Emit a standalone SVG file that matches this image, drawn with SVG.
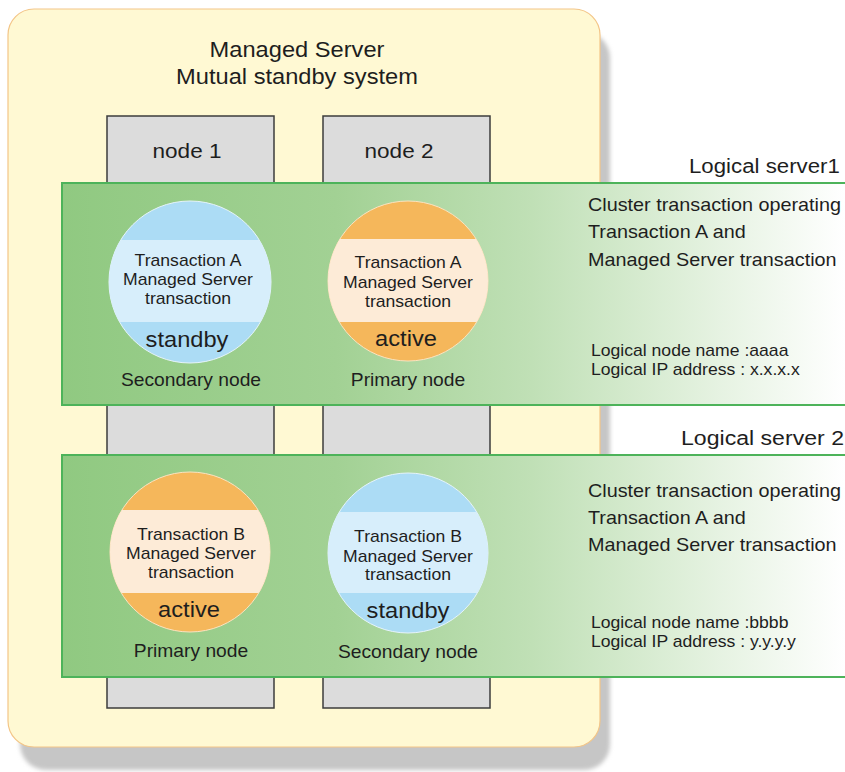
<svg xmlns="http://www.w3.org/2000/svg" width="845" height="772" viewBox="0 0 845 772">
<style>
text{font-family:"Liberation Sans",Arial,sans-serif;fill:#1e1e1e}
.c{text-anchor:middle}
.title{font-size:21.5px}
.nl{font-size:20.5px}
.tx{font-size:16px}
.st{font-size:21.5px}
.role{font-size:17.5px}
.desc{font-size:18px}
.info{font-size:16px}
.ls{font-size:21px}
.box{fill:#dcdcdc;stroke:#3c3c3c;stroke-width:1.5}
.band{fill:url(#bandGrad);stroke:#4db35a;stroke-width:2}
.blue{fill:#acdcf5;stroke:#e6f4fb;stroke-width:1}
.orange{fill:#f5b75b;stroke:#fbe3c0;stroke-width:1}
.blueIn{fill:#d7eefb}
.orangeIn{fill:#fdebd7}
</style>
<defs>
<linearGradient id="bandGrad" gradientUnits="userSpaceOnUse" x1="62" y1="0" x2="845" y2="0">
<stop offset="0" stop-color="#90c981"/>
<stop offset="0.35" stop-color="#a2d194"/>
<stop offset="0.6" stop-color="#c0e0b6"/>
<stop offset="1" stop-color="#ffffff"/>
</linearGradient>
<filter id="blur" x="-5%" y="-5%" width="110%" height="110%"><feGaussianBlur stdDeviation="2"/></filter>
<clipPath id="cp1"><circle cx="190" cy="282" r="81"/></clipPath>
<clipPath id="cp2"><circle cx="408" cy="281" r="80"/></clipPath>
<clipPath id="cp3"><circle cx="190" cy="552" r="80"/></clipPath>
<clipPath id="cp4"><circle cx="408" cy="553" r="80"/></clipPath>
</defs>

<g id="managed-server">
<rect x="20" y="32" width="590" height="738" rx="26" fill="#c6c6c6" filter="url(#blur)"/>
<rect x="8" y="9" width="592" height="738" rx="26" fill="#fff9d3" stroke="#f3c587" stroke-width="1.2"/>
<text class="title c" transform="translate(297,57) scale(1.1,1)">Managed Server</text>
<text class="title c" transform="translate(297,84) scale(1.1,1)">Mutual standby system</text>
</g>

<g id="node1">
<rect class="box" x="107" y="116" width="167" height="592"/>
<text class="nl c" transform="translate(187,158) scale(1.1,1)">node 1</text>
</g>
<g id="node2">
<rect class="box" x="323" y="116" width="167" height="592"/>
<text class="nl c" transform="translate(399,158) scale(1.1,1)">node 2</text>
</g>

<g id="logical-server1">
<text class="ls" transform="translate(689,173) scale(1.06,1)">Logical server1</text>
<rect class="band" x="62" y="183" width="800" height="222"/>
<text class="desc" transform="translate(588,211) scale(1.1,1)">Cluster transaction operating</text>
<text class="desc" transform="translate(588,238) scale(1.1,1)">Transaction A and</text>
<text class="desc" transform="translate(588,266) scale(1.1,1)">Managed Server transaction</text>
<text class="info" transform="translate(591,356) scale(1.1,1)">Logical node name :aaaa</text>
<text class="info" transform="translate(591,375) scale(1.1,1)">Logical IP address : x.x.x.x</text>
</g>

<g id="logical-server2">
<text class="ls" transform="translate(681,445) scale(1.1,1)">Logical server 2</text>
<rect class="band" x="62" y="455" width="800" height="222"/>
<text class="desc" transform="translate(588,497) scale(1.1,1)">Cluster transaction operating</text>
<text class="desc" transform="translate(588,524) scale(1.1,1)">Transaction A and</text>
<text class="desc" transform="translate(588,551) scale(1.1,1)">Managed Server transaction</text>
<text class="info" transform="translate(591,628) scale(1.1,1)">Logical node name :bbbb</text>
<text class="info" transform="translate(591,647) scale(1.1,1)">Logical IP address : y.y.y.y</text>
</g>

<g id="tx-a-node1">
<circle class="blue" cx="190" cy="282" r="81"/>
<rect class="blueIn" x="100" y="240" width="180" height="82" clip-path="url(#cp1)"/>
<text class="tx c" transform="translate(188,266) scale(1.1,1)">Transaction A</text>
<text class="tx c" transform="translate(188,285) scale(1.1,1)">Managed Server</text>
<text class="tx c" transform="translate(188,304) scale(1.1,1)">transaction</text>
<text class="st c" transform="translate(187,347) scale(1.1,1)">standby</text>
<text class="role c" transform="translate(191,386) scale(1.1,1)">Secondary node</text>
</g>

<g id="tx-a-node2">
<circle class="orange" cx="408" cy="281" r="80"/>
<rect class="orangeIn" x="320" y="239" width="180" height="83" clip-path="url(#cp2)"/>
<text class="tx c" transform="translate(408,268) scale(1.1,1)">Transaction A</text>
<text class="tx c" transform="translate(408,288) scale(1.1,1)">Managed Server</text>
<text class="tx c" transform="translate(408,307) scale(1.1,1)">transaction</text>
<text class="st c" transform="translate(406,346) scale(1.1,1)">active</text>
<text class="role c" transform="translate(408,386) scale(1.1,1)">Primary node</text>
</g>

<g id="tx-b-node1">
<circle class="orange" cx="190" cy="552" r="80"/>
<rect class="orangeIn" x="100" y="510" width="180" height="83" clip-path="url(#cp3)"/>
<text class="tx c" transform="translate(191,540) scale(1.1,1)">Transaction B</text>
<text class="tx c" transform="translate(191,559) scale(1.1,1)">Managed Server</text>
<text class="tx c" transform="translate(191,578) scale(1.1,1)">transaction</text>
<text class="st c" transform="translate(189,617) scale(1.1,1)">active</text>
<text class="role c" transform="translate(191,657) scale(1.1,1)">Primary node</text>
</g>

<g id="tx-b-node2">
<circle class="blue" cx="408" cy="553" r="80"/>
<rect class="blueIn" x="320" y="512" width="180" height="81" clip-path="url(#cp4)"/>
<text class="tx c" transform="translate(408,542) scale(1.1,1)">Transaction B</text>
<text class="tx c" transform="translate(408,562) scale(1.1,1)">Managed Server</text>
<text class="tx c" transform="translate(408,580) scale(1.1,1)">transaction</text>
<text class="st c" transform="translate(408,618) scale(1.1,1)">standby</text>
<text class="role c" transform="translate(408,658) scale(1.1,1)">Secondary node</text>
</g>

<g id="connectors"/>
</svg>
